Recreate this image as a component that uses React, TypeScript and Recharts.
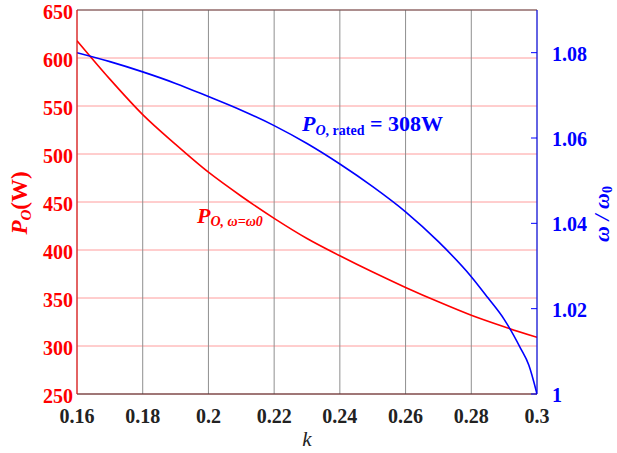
import {
  CartesianGrid,
  Label,
  Line,
  LineChart,
  ReferenceLine,
  XAxis,
  YAxis,
} from 'recharts'

// k values and readings taken off the reference plot
const kPower = [0.16, 0.17, 0.18, 0.19, 0.2, 0.21, 0.22, 0.23, 0.24, 0.25, 0.26, 0.27, 0.28, 0.29, 0.3]
const powerW = [618, 578, 541, 510, 481, 456, 433, 412, 394, 377, 361, 346, 332, 320, 309]

const kSpeed = [0.16, 0.17, 0.18, 0.19, 0.2, 0.21, 0.22, 0.23, 0.24, 0.25, 0.26, 0.27, 0.28, 0.285, 0.29, 0.295, 0.2975, 0.3]
const speedRatio = [
  1.08, 1.0779, 1.0755, 1.0728, 1.0697, 1.0665, 1.0629, 1.0587, 1.0539, 1.0486, 1.0427, 1.0357, 1.0275, 1.0226,
  1.0175, 1.0107, 1.0068, 1.0,
]

const kTicks = [0.16, 0.18, 0.2, 0.22, 0.24, 0.26, 0.28, 0.3]
const powerTicks = [250, 300, 350, 400, 450, 500, 550, 600, 650]
const speedTicks = [1, 1.02, 1.04, 1.06, 1.08]

const powerData = kPower.map((k, i) => ({ k, p: powerW[i] }))
const speedData = kSpeed.map((k, i) => ({ k, w: speedRatio[i] }))

const RED = '#ff0000'
const BLUE = '#0000ff'
const FONT = 'Liberation Serif, DejaVu Serif, serif'

const trim = (v: number) => String(Number(v.toFixed(2)))

const RIGHT_MARGIN = 15

function BottomTick(props: any) {
  const { x, y, payload } = props
  return (
    <text x={x} y={y} dy={26} fill="#222" fontFamily={FONT} fontWeight="bold" fontSize={20} textAnchor="middle">
      {trim(payload.value)}
    </text>
  )
}

function LeftTick(props: any) {
  const { x, y, payload } = props
  return (
    <text x={x} y={y} dy={9} fill={RED} fontFamily={FONT} fontWeight="bold" fontSize={20} textAnchor="end">
      {trim(payload.value)}
    </text>
  )
}

function RightTick(props: any) {
  const { x, y, payload } = props
  const axisX = x - RIGHT_MARGIN
  return (
    <g>
      <line x1={axisX - 6} x2={axisX} y1={y} y2={y} stroke={BLUE} strokeWidth={1} />
      <text x={x} y={y} dy={8} fill={BLUE} fontFamily={FONT} fontWeight="bold" fontSize={20} textAnchor="start">
        {trim(payload.value)}
      </text>
    </g>
  )
}

export default function App() {
  return (
    <div style={{ position: 'absolute', left: 0, top: 0, width: 617, height: 453, background: '#fff' }}>
      <LineChart
        width={617}
        height={453}
        margin={{ top: 10, right: 10, bottom: 29, left: 17 }}
        style={{ fontFamily: FONT }}
      >
        <CartesianGrid yAxisId="left" vertical={false} stroke="#ff9c9c" strokeWidth={1} />
        <CartesianGrid yAxisId="left" horizontal={false} stroke="#8f8f8f" strokeWidth={1} />
        <XAxis
          dataKey="k"
          type="number"
          domain={[0.16, 0.3]}
          ticks={kTicks}
          allowDataOverflow
          height={30}
          stroke="#402020"
          tickLine={false}
          tickSize={0}
          tickMargin={3}
          tick={<BottomTick />}
        >
          <Label
            content={() => (
              <text x={307} y={446} textAnchor="middle" fontFamily={FONT} fontStyle="italic" fontSize={21} fill="#222">
                k
              </text>
            )}
          />
        </XAxis>
        <YAxis
          yAxisId="left"
          domain={[250, 650]}
          ticks={powerTicks}
          width={60}
          stroke={RED}
          tickLine={false}
          tickSize={0}
          tickMargin={4}
          tick={<LeftTick />}
        >
          <Label
            content={() => (
              <text
                x={27}
                y={203}
                transform="rotate(-90, 27, 203)"
                textAnchor="middle"
                fontFamily={FONT}
                fill={RED}
                fontSize={23}
                fontWeight="bold"
              >
                <tspan fontStyle="italic">P</tspan>
                <tspan fontStyle="italic" fontSize={15} dy={4}>
                  O
                </tspan>
                <tspan dy={-4}>(W)</tspan>
              </text>
            )}
          />
        </YAxis>
        <YAxis
          yAxisId="right"
          orientation="right"
          domain={[1, 1.09]}
          ticks={speedTicks}
          width={70}
          stroke={BLUE}
          tickLine={false}
          tickSize={0}
          tickMargin={RIGHT_MARGIN}
          tick={<RightTick />}
        >
          <Label
            content={() => (
              <text
                x={609}
                y={214}
                transform="rotate(-90, 609, 214)"
                textAnchor="middle"
                fontFamily={FONT}
                fill={BLUE}
                fontSize={22}
                fontWeight="bold"
                fontStyle="italic"
              >
                <tspan>ω / ω</tspan>
                <tspan fontSize={14} dy={3} fontStyle="normal">
                  0
                </tspan>
              </text>
            )}
          />
        </YAxis>
        <ReferenceLine yAxisId="left" y={650} stroke="#5a5050" strokeWidth={1}>
          <Label
            content={() => (
              <g fontFamily={FONT} fontWeight="bold">
                <text x={197} y={223} fill={RED} fontSize={22}>
                  <tspan fontStyle="italic">P</tspan>
                  <tspan fontStyle="italic" fontSize={14} dy={3}>
                    O, ω=ω0
                  </tspan>
                </text>
                <text x={302} y={131} fill={BLUE} fontSize={22}>
                  <tspan fontStyle="italic">P</tspan>
                  <tspan fontSize={14} dy={4}>
                    <tspan fontStyle="italic">O</tspan>, rated
                  </tspan>
                  <tspan dy={-4}> = 308W</tspan>
                </text>
              </g>
            )}
          />
        </ReferenceLine>
        <Line
          yAxisId="left"
          data={powerData}
          dataKey="p"
          type="monotone"
          stroke={RED}
          strokeWidth={1.6}
          dot={false}
          isAnimationActive={false}
        />
        <Line
          yAxisId="right"
          data={speedData}
          dataKey="w"
          type="monotone"
          stroke={BLUE}
          strokeWidth={1.6}
          dot={false}
          isAnimationActive={false}
        />
      </LineChart>
    </div>
  )
}
